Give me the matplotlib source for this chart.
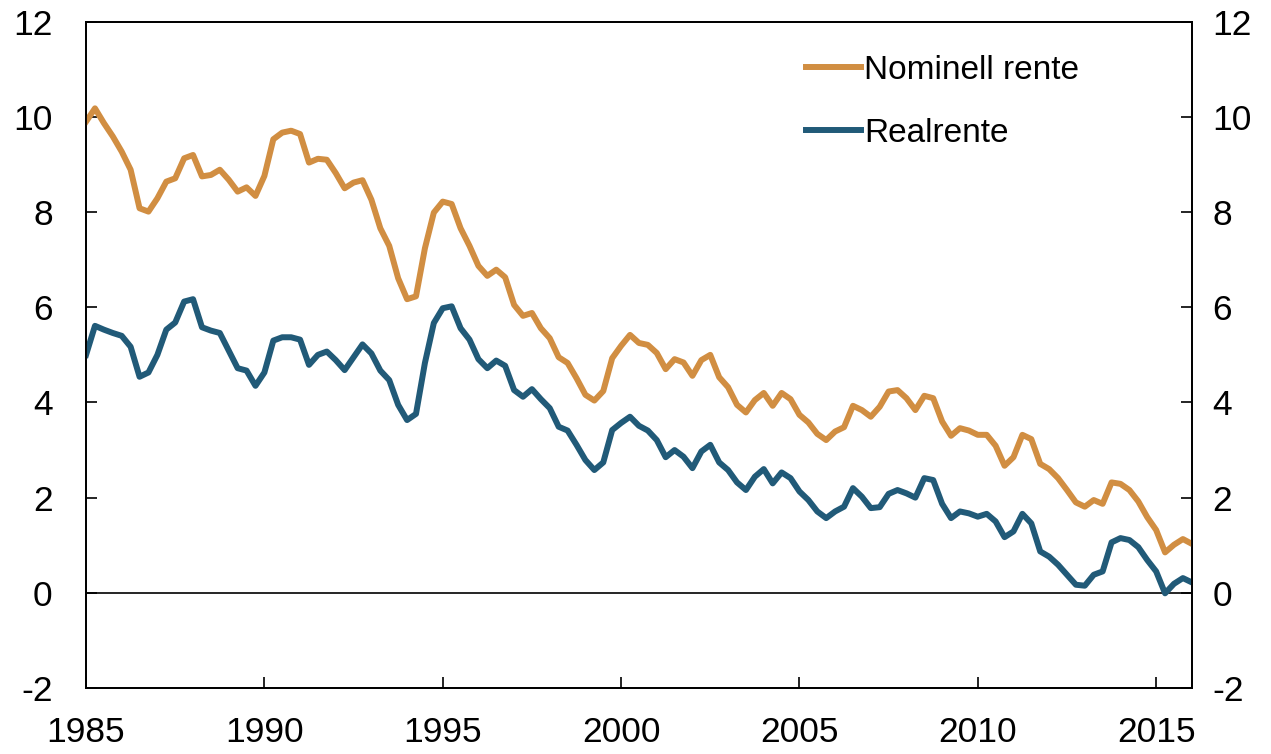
import numpy as np
import matplotlib
matplotlib.use("Agg")
import matplotlib.pyplot as plt

plt.rcParams['font.family'] = ['Liberation Sans', 'DejaVu Sans']
plt.rcParams['axes.unicode_minus'] = False

# kvartalstall 1985K1 - 2016K1
start_year = 1985
n_quarters = 125

nominell = [
    9.90, 10.18, 9.87, 9.59, 9.27, 8.89, 8.08, 8.01, 8.29, 8.64,
    8.71, 9.13, 9.20, 8.75, 8.78, 8.89, 8.68, 8.43, 8.52, 8.34,
    8.76, 9.53, 9.67, 9.71, 9.64, 9.04, 9.12, 9.10, 8.82, 8.50,
    8.62, 8.67, 8.26, 7.66, 7.29, 6.61, 6.17, 6.23, 7.24, 7.99,
    8.22, 8.17, 7.66, 7.29, 6.87, 6.66, 6.79, 6.63, 6.05, 5.82,
    5.88, 5.56, 5.35, 4.95, 4.83, 4.51, 4.16, 4.04, 4.24, 4.93,
    5.19, 5.42, 5.25, 5.21, 5.04, 4.70, 4.91, 4.84, 4.56, 4.89,
    5.00, 4.53, 4.32, 3.95, 3.79, 4.05, 4.20, 3.93, 4.20, 4.07,
    3.74, 3.58, 3.34, 3.21, 3.39, 3.48, 3.93, 3.84, 3.70, 3.91,
    4.23, 4.26, 4.09, 3.84, 4.14, 4.09, 3.60, 3.30, 3.46, 3.41,
    3.32, 3.32, 3.09, 2.67, 2.85, 3.32, 3.23, 2.71, 2.60, 2.41,
    2.16, 1.90, 1.81, 1.95, 1.87, 2.32, 2.29, 2.16, 1.92, 1.59,
    1.32, 0.85, 1.01, 1.13, 1.03,
]

realrente = [
    5.00, 5.61, 5.53, 5.46, 5.40, 5.17, 4.54, 4.63, 5.00, 5.53,
    5.68, 6.12, 6.17, 5.58, 5.51, 5.46, 5.09, 4.72, 4.67, 4.35,
    4.63, 5.30, 5.37, 5.37, 5.32, 4.79, 5.00, 5.07, 4.89, 4.68,
    4.95, 5.22, 5.03, 4.67, 4.47, 3.95, 3.63, 3.76, 4.83, 5.67,
    5.98, 6.02, 5.56, 5.32, 4.91, 4.72, 4.88, 4.77, 4.26, 4.12,
    4.28, 4.07, 3.88, 3.49, 3.41, 3.11, 2.79, 2.58, 2.74, 3.42,
    3.57, 3.70, 3.51, 3.41, 3.21, 2.85, 3.00, 2.86, 2.62, 2.97,
    3.11, 2.74, 2.58, 2.32, 2.16, 2.44, 2.60, 2.30, 2.53, 2.41,
    2.13, 1.95, 1.71, 1.57, 1.71, 1.81, 2.20, 2.02, 1.78, 1.80,
    2.08, 2.16, 2.09, 2.00, 2.41, 2.37, 1.87, 1.57, 1.71, 1.67,
    1.60, 1.66, 1.50, 1.17, 1.29, 1.66, 1.46, 0.87, 0.76, 0.59,
    0.38, 0.17, 0.15, 0.38, 0.45, 1.06, 1.15, 1.11, 0.96, 0.69,
    0.45, -0.01, 0.19, 0.31, 0.22,
]

x_ticks = [1985, 1990, 1995, 2000, 2005, 2010, 2015]
y_ticks = [-2, 0, 2, 4, 6, 8, 10, 12]

tid = start_year + np.arange(n_quarters) * 0.25

fig = plt.figure(figsize=(12.71, 7.54), dpi=100)
ax = fig.add_axes([0.0677, 0.0875, 0.870, 0.8837])

ax.axhline(0, color='black', lw=1.2, zorder=1)
ax.plot(tid, nominell, color='#D18E42', lw=4.3, label='Nominell rente', zorder=3)
ax.plot(tid, realrente, color='#215A78', lw=4.3, label='Realrente', zorder=3)

ax.set_xlim(1985, 2016)
ax.set_ylim(-2, 12)
ax.set_xticks(x_ticks)
ax.set_yticks(y_ticks)

for s in ax.spines.values():
    s.set_linewidth(1.3)

ax.tick_params(axis='both', direction='in', length=8, width=1.2, labelsize=25.5)
ax.tick_params(axis='y', pad=24)
ax.tick_params(axis='x', pad=20)

# høyre akse med samme skala
ax2 = ax.twinx()
ax2.set_ylim(-2, 12)
ax2.set_yticks(y_ticks)
ax2.tick_params(axis='y', direction='in', length=8, width=1.2, labelsize=25.5, pad=15)
for s in ax2.spines.values():
    s.set_linewidth(1.3)

leg = ax.legend(loc='upper left', bbox_to_anchor=(0.651, 0.95), frameon=False,
                fontsize=24, handlelength=1.65, handletextpad=0.1,
                labelspacing=0.95, borderpad=0, borderaxespad=0)

fig.savefig('out.png', dpi=100)
